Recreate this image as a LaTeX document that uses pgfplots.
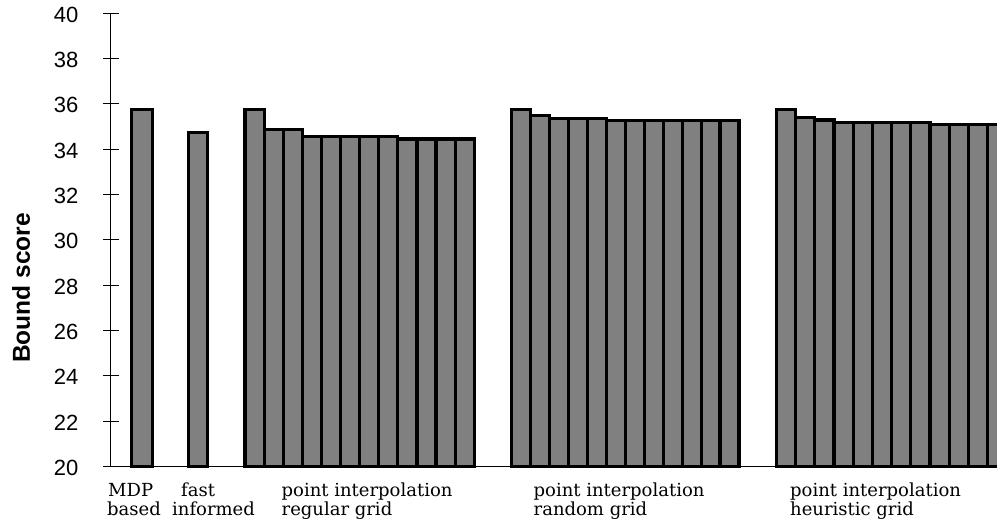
\documentclass[border=0pt]{standalone}
\usepackage{fontspec}
\usepackage{pgfplots}
\pgfplotsset{compat=1.18}
\setmainfont{DejaVu Serif}
\newfontfamily\arial{Liberation Sans}
\definecolor{barfill}{RGB}{128,128,128}
\begin{document}
\begin{tikzpicture}[x=1pt,y=1pt]
\useasboundingbox (0,0) rectangle (997,523);
\begin{axis}[
  at={(111pt,56.7pt)}, anchor=south west,
  scale only axis, width=886pt, height=453pt,
  xmin=111, xmax=997, ymin=20, ymax=40,
  y coord trafo/.code={\pgfmathparse{#1-20}},
  y coord inv trafo/.code={\pgfmathparse{#1+20}},
  axis x line=bottom, axis y line=left,
  axis line style={-, line width=1pt, black},
  ytick={20,22,24,26,28,30,32,34,36,38,40}, xtick=\empty,
  ytick align=center, major tick length=16pt,
  tick style={line width=1pt, black},
  yticklabel style={font=\arial\fontsize{22}{22}\selectfont, xshift=-21pt, yshift=-1.5pt},
  /pgf/number format/assume math mode=true,
  /pgf/number format/precision=0,
  ylabel={Bound score},
  ylabel style={font=\arial\bfseries\fontsize{24.5}{24.5}\selectfont, at={(axis description cs:-0.1015,0.394)}, anchor=center},
  ybar, bar shift=0pt,
  clip=false,
  every axis plot/.append style={fill=barfill, draw=black, line width=3.2pt, line join=miter},
]
% MDP based
\addplot[bar width=21] coordinates {(142,35.77)};
% fast informed
\addplot[bar width=18.5] coordinates {(198,34.72)};
% point interpolation, regular grid
\addplot[bar width=19.1] coordinates {
(254.55,35.77) (273.65,34.87) (292.75,34.87) (311.85,34.56) (330.95,34.56) (350.05,34.56)
(369.15,34.56) (388.25,34.56) (407.35,34.45) (426.45,34.45) (445.55,34.45) (464.65,34.45)};
% point interpolation, random grid
\addplot[bar width=18.94] coordinates {
(521.17,35.77) (540.11,35.48) (559.05,35.36) (577.99,35.36) (596.93,35.36) (615.87,35.28)
(634.81,35.28) (653.75,35.28) (672.69,35.28) (691.63,35.28) (710.57,35.28) (729.51,35.28)};
% point interpolation, heuristic grid
\addplot[bar width=19.2] coordinates {
(785.9,35.77) (805.1,35.40) (824.3,35.29) (843.5,35.19) (862.7,35.19) (881.9,35.19)
(901.1,35.19) (920.3,35.19) (939.5,35.10) (958.7,35.10) (977.9,35.10) (997.1,35.10)};
\end{axis}
\begin{scope}[every node/.style={anchor=base west, inner sep=0pt, font=\fontsize{18}{18}\selectfont}]
\node at (108,27) {MDP};
\node at (107,7.5) {based};
\node at (181,27) {fast};
\node at (172,7.5) {informed};
\node at (281.5,27) {point interpolation};
\node at (281.5,7.5) {regular grid};
\node at (533.5,27) {point interpolation};
\node at (533.5,7.5) {random grid};
\node at (790,27) {point interpolation};
\node at (790,7.5) {heuristic grid};
\end{scope}
\end{tikzpicture}
\end{document}
